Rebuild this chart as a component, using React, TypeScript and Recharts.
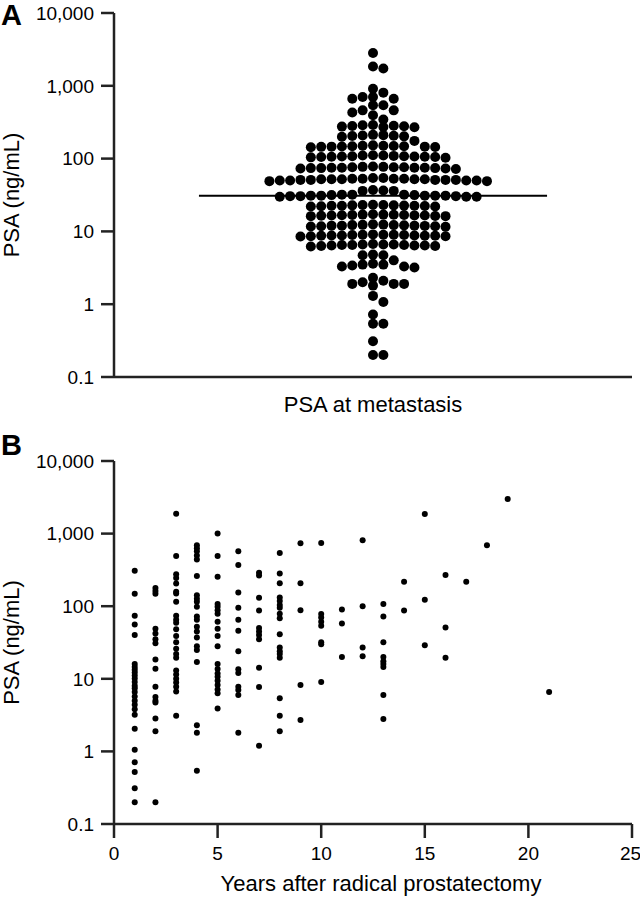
import { Label, ReferenceLine, Scatter, ScatterChart, XAxis, YAxis } from "recharts";

const PSA_TICKS = [0.1, 1, 10, 100, 1000, 10000];
const YEAR_TICKS = [0, 5, 10, 15, 20, 25];

// PSA at metastasis (ng/mL), one value per patient, read top to bottom
const metastasisPsa = [
    2820, 1840, 1730, 910, 805, 700, 700, 665, 665, 540, 540, 460, 460, 430, 395, 345,
    290, 287, 283, 280, 278, 275, 272, 270,
    212, 210, 208, 206, 204, 202, 200, 175,
    152, 150, 149, 148, 147, 146, 145, 144, 150, 148, 146, 143,
    111, 110, 109, 108, 108, 107, 107, 106, 106, 105, 105, 104, 103, 110,
    78, 77, 77, 76, 76, 75, 75, 75, 74, 74, 74, 73, 73, 72, 76, 75,
    54, 54, 53, 53, 53, 52, 52, 52, 52, 51, 51, 51, 51, 51, 50, 50, 50, 50, 49, 49, 53, 52,
    37, 36.5, 36, 36, 32, 32, 32, 31.5, 31.5, 31, 31, 31, 31, 30.5, 30.5, 30.5, 30, 30, 30, 31,
    23.2, 23, 23, 22.8, 22.6, 22.5, 22.5, 22.3, 22.2, 22, 22, 22.8, 22.5,
    17.2, 17, 17, 16.9, 16.8, 16.7, 16.6, 16.5, 16.4, 16.3, 16.2, 16.2, 16.8, 16.5,
    12.5, 12.4, 12.3, 12.2, 12.1, 12, 12, 11.9, 11.8, 11.7, 11.6, 12.2, 12, 11.8,
    9.1, 9, 9, 8.9, 8.9, 8.8, 8.8, 8.7, 8.7, 8.6, 8.6, 8.5, 9, 8.8, 8.7,
    6.7, 6.6, 6.6, 6.5, 6.5, 6.4, 6.4, 6.3, 6.3, 6.2, 6.5, 6.4, 6.6,
    4.8, 4.7, 4.7, 4.0,
    3.6, 3.5, 3.4, 3.3, 3.3, 3.2, 3.5,
    2.3, 2.1, 2, 1.9, 1.9, 1.9, 1.8,
    1.3, 1.07, 0.72, 0.54, 0.54, 0.31, 0.2, 0.2,
];

// PSA at metastasis against years after radical prostatectomy
const recurrenceYears = [1, 2, 3, 4, 5, 6, 7, 8, 9, 10, 11, 12, 13, 14, 15, 16, 17, 18, 19, 21];
const psaByYear = [
    [309, 148, 74, 56, 40, 16, 14.5, 13.3, 12.2, 11.1, 10.1, 9, 8, 7.4, 6.6, 5.7, 5, 4.4, 3.8, 3.2, 2.05, 1.05, 0.71, 0.52, 0.31, 0.2],
    [178, 162, 148, 49, 42, 35, 31, 18.5, 13.8, 7.8, 5.6, 5, 4.7, 2.85, 1.9, 0.2],
    [1880, 490, 275, 245, 205, 158, 150, 115, 74, 65, 59, 48, 39, 32, 26, 22, 19.5, 13, 11.5, 10, 8.9, 7.8, 6.7, 3.1],
    [690, 630, 570, 500, 440, 260, 142, 127, 115, 98, 72, 65, 52, 45, 37, 28, 25, 17, 2.3, 1.8, 0.54],
    [1000, 490, 255, 107, 98, 88, 79, 61, 49, 39, 28, 16, 13.6, 11.8, 10.7, 9.4, 8.2, 7.1, 6.3, 3.9],
    [570, 368, 154, 95, 65, 46, 24, 13.5, 12, 7.8, 7, 6, 1.8],
    [290, 264, 131, 87, 50, 45, 40, 35, 14.2, 7.7, 1.2],
    [540, 282, 207, 132, 118, 104, 95, 79, 68, 41, 27, 24, 22, 19.5, 5.4, 3.1, 1.9],
    [735, 207, 88, 8.2, 2.7],
    [740, 78, 70, 61, 54, 32, 30, 9],
    [90, 58, 20],
    [810, 100, 27, 20.5],
    [107, 72, 32, 20, 17.5, 16, 14.5, 6, 2.8],
    [218, 87],
    [1860, 123, 29],
    [270, 51, 19.5],
    [218],
    [690],
    [3000],
    [6.6],
];

const FONT = '"Liberation Sans", Arial, Helvetica, sans-serif';
const INK = "#000";
const AXIS_INK = "#222";

const WIDTH = 640;
const A_HEIGHT = 420;
const A_TOP = 13;
const A_XAXIS_H = 43;
const B_TOP_OFFSET = 430;
const B_HEIGHT = 467;
const Y_AXIS_W = 114;

// swarm layout: dots on a grid of slots, one slot = one x unit
const SLOT_RANGE = 25;
const SWARM_DOT_R = 5;
const COLLIDE_PX = 7.5;
const PX_PER_DECADE = (A_HEIGHT - A_TOP - A_XAXIS_H) / 5;
const MEDIAN_HALF_SPAN = 16.8;

const layoutSwarm = (values: number[]) => {
    const sorted = [...values].sort((a, b) => b - a);
    const placed: { slot: number; py: number }[] = [];
    return sorted.map((psa) => {
        const py = -Math.log10(psa) * PX_PER_DECADE;
        let slot = 0;
        for (let k = 0; k < 60; k++) {
            const s = k === 0 ? 0 : k % 2 === 1 ? (k + 1) / 2 : -k / 2;
            const clash = placed.some((p) => p.slot === s && Math.abs(p.py - py) < COLLIDE_PX);
            if (!clash) {
                slot = s;
                break;
            }
        }
        placed.push({ slot, py });
        return { slot, psa };
    });
};

const median = (values: number[]) => {
    const s = [...values].sort((a, b) => a - b);
    const mid = Math.floor(s.length / 2);
    return s.length % 2 ? s[mid] : (s[mid - 1] + s[mid]) / 2;
};

const formatPsa = (v: number) => (v >= 1000 ? v.toLocaleString("en-US") : String(v));

const tickStyle = { fill: INK, fontSize: 19, fontFamily: FONT };
const axisLine = { stroke: AXIS_INK, strokeWidth: 2.5 };
const titleStyle = { fontSize: 22, fontFamily: FONT, fill: INK, textAnchor: "middle" as const };

const App = () => {
    const swarm = layoutSwarm(metastasisPsa);
    const medianPsa = median(metastasisPsa);
    const yearPoints = recurrenceYears.flatMap((year, i) => psaByYear[i].map((psa) => ({ year, psa })));

    return (
        <div style={{ position: "absolute", left: 0, top: 0, width: WIDTH, height: 897, background: "#fff", fontFamily: FONT }}>
            <div style={{ position: "absolute", left: 0, top: 0 }}>
                <ScatterChart width={WIDTH} height={A_HEIGHT} margin={{ top: A_TOP, right: 8, bottom: 0, left: 0 }}>
                    <XAxis
                        type="number"
                        dataKey="slot"
                        domain={[-SLOT_RANGE, SLOT_RANGE]}
                        height={A_XAXIS_H}
                        tick={false}
                        tickLine={false}
                        axisLine={axisLine}
                    >
                        <Label value="PSA at metastasis" position="insideBottom" offset={8} style={titleStyle} />
                    </XAxis>
                    <YAxis
                        type="number"
                        dataKey="psa"
                        scale="log"
                        domain={[0.1, 10000]}
                        ticks={PSA_TICKS}
                        allowDataOverflow
                        width={Y_AXIS_W}
                        tick={tickStyle}
                        tickFormatter={formatPsa}
                        tickSize={13}
                        tickMargin={7}
                        tickLine={axisLine}
                        axisLine={axisLine}
                    >
                        <Label value="PSA (ng/mL)" angle={-90} position="insideLeft" offset={11} style={titleStyle} />
                    </YAxis>
                    <Scatter
                        data={swarm}
                        isAnimationActive={false}
                        shape={(p: any) => <circle cx={p.cx} cy={p.cy} r={SWARM_DOT_R} fill={INK} />}
                    />
                    <ReferenceLine
                        segment={[
                            { x: -MEDIAN_HALF_SPAN, y: medianPsa },
                            { x: MEDIAN_HALF_SPAN, y: medianPsa },
                        ]}
                        stroke={INK}
                        strokeWidth={2}
                        ifOverflow="visible"
                    />
                </ScatterChart>
            </div>
            <div style={{ position: "absolute", left: 0, top: B_TOP_OFFSET }}>
                <ScatterChart width={WIDTH} height={B_HEIGHT} margin={{ top: 31, right: 8, bottom: 0, left: 0 }}>
                    <XAxis
                        type="number"
                        dataKey="year"
                        domain={[0, 25]}
                        ticks={YEAR_TICKS}
                        height={73}
                        tick={tickStyle}
                        tickSize={14}
                        tickMargin={9}
                        tickLine={axisLine}
                        axisLine={axisLine}
                    >
                        <Label value="Years after radical prostatectomy" position="insideBottom" offset={6} dx={8} style={titleStyle} />
                    </XAxis>
                    <YAxis
                        type="number"
                        dataKey="psa"
                        scale="log"
                        domain={[0.1, 10000]}
                        ticks={PSA_TICKS}
                        allowDataOverflow
                        width={Y_AXIS_W}
                        tick={tickStyle}
                        tickFormatter={formatPsa}
                        tickSize={13}
                        tickMargin={7}
                        tickLine={axisLine}
                        axisLine={axisLine}
                    >
                        <Label value="PSA (ng/mL)" angle={-90} position="insideLeft" offset={11} style={titleStyle} />
                    </YAxis>
                    <Scatter
                        data={yearPoints}
                        isAnimationActive={false}
                        shape={(p: any) => <circle cx={p.cx} cy={p.cy} r={3} fill={INK} />}
                    />
                </ScatterChart>
            </div>
            <svg width={WIDTH} height={897} style={{ position: "absolute", left: 0, top: 0, pointerEvents: "none" }}>
                <text x={1} y={25} fontSize={29} fontWeight="bold" fontFamily={FONT} fill={INK}>A</text>
                <text x={1} y={455} fontSize={29} fontWeight="bold" fontFamily={FONT} fill={INK}>B</text>
            </svg>
        </div>
    );
};

export default App;
